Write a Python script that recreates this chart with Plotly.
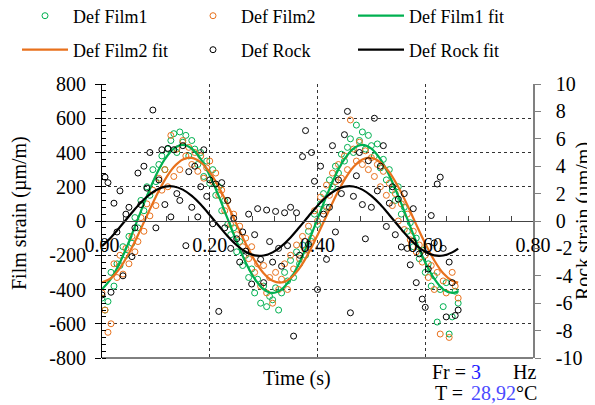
import plotly.graph_objects as go

# ---- data ----
time_s = [0, 0.0056, 0.0111, 0.0167, 0.0222, 0.0278, 0.0333, 0.0389, 0.0444,
          0.05, 0.0556, 0.0611, 0.0667, 0.0722, 0.0778, 0.0833, 0.0889, 0.0944,
          0.1, 0.1056, 0.1111, 0.1167, 0.1222, 0.1278, 0.1333, 0.1389, 0.1444,
          0.15, 0.1556, 0.1611, 0.1667, 0.1722, 0.1778, 0.1833, 0.1889, 0.1944,
          0.2, 0.2056, 0.2111, 0.2167, 0.2222, 0.2278, 0.2333, 0.2389, 0.2444,
          0.25, 0.2556, 0.2611, 0.2667, 0.2722, 0.2778, 0.2833, 0.2889, 0.2944,
          0.3, 0.3056, 0.3111, 0.3167, 0.3222, 0.3278, 0.3333, 0.3389, 0.3444,
          0.35, 0.3556, 0.3611, 0.3667, 0.3722, 0.3778, 0.3833, 0.3889, 0.3944,
          0.4, 0.4056, 0.4111, 0.4167, 0.4222, 0.4278, 0.4333, 0.4389, 0.4444,
          0.45, 0.4556, 0.4611, 0.4667, 0.4722, 0.4778, 0.4833, 0.4889, 0.4944,
          0.5, 0.5056, 0.5111, 0.5167, 0.5222, 0.5278, 0.5333, 0.5389, 0.5444,
          0.55, 0.5556, 0.5611, 0.5667, 0.5722, 0.5778, 0.5833, 0.5889, 0.5944,
          0.6, 0.6056, 0.6111, 0.6167, 0.6222, 0.6278, 0.6333, 0.6389, 0.6444,
          0.65, 0.6556, 0.6611]

film1 = [-450, -520, -470, -300, -380, -250, -260, -150, -200, -90, -130, 20,
         -40, 120, 60, 200, 150, 300, 230, 330, 380, 300, 420, 470,
         510, 400, 520, 460, 500, 380, 470, 420, 330, 400, 260, 350,
         220, 300, 150, 200, 60, 120, -20, -80, -40, -180, -120, -260,
         -200, -330, -280, -420, -340, -480, -380, -500, -440, -460, -390, -520,
         -420, -300, -350, -230, -330, -180, -250, -140, -200, -60, -120, 40,
         -20, 100, 160, 80, 240, 200, 320, 280, 390, 350, 430, 480,
         400, 560, 470, 520, 420, 500, 440, 380, 450, 310, 360, 240,
         300, 180, 120, 200, 40, 80, -60, -10, -150, -100, -220, -170,
         -300, -250, -380, -320, -590, -400, -500, -360, -660, -560, -410, -480]

film2 = [-420, -520, -650, -600, -250, -330, -200, -310, -160, -250, -90, -180,
         -120, 20, -60, 100, 30, 180, 90, 250, 180, 300, 200, 500,
         260, 420, 300, 470, 380, 430, 330, 400, 290, 380, 250, 310,
         350, 230, 280, 150, 180, 60, 120, -20, 40, -80, -30, -150,
         -100, -220, -150, -300, -250, -380, -260, -420, -330, -480, -300, -400,
         -340, -250, -400, -200, -280, -140, -220, -90, -170, -30, -100, 60,
         0, 140, 60, 210, 150, 280, 230, 330, 250, 380, 300, 590,
         420, 350, 460, 330, 410, 300, 370, 260, 330, 200, 290, 150,
         220, 90, 160, 0, 100, -50, 40, -110, -60, -180, -140, -240,
         -200, -330, -260, -400, -300, -660, -350, -420, -680, -300, -380, -450]

rock = [-5.4, 3.2, 2.8, -5.2, 1.3, -0.8, 2.2, -4.0, 0.5, 1.0, -2.6, -0.5,
        3.5, 1.2, 4.0, 2.4, 5.0, 8.1, -0.5, 3.0, 5.2, 1.2, 5.3, 0.3,
        5.2, 2.0, 1.5, 5.5, -1.8, 3.6, 1.0, 4.0, 0.3, 2.5, 5.2, 1.8,
        3.0, -0.2, 2.7, -6.6, 2.8, -0.5, 1.5, -2.0, 0.2, -1.3, -3.0, -0.8,
        -2.2, 0.5, -4.6, -1.0, 0.9, -2.8, -4.5, 0.8, -1.5, -3.0, 0.7, -2.0,
        -3.3, 0.6, -1.8, 1.0, -8.4, 0.6, -2.5, 4.7, 6.6, -1.7, 5.0, 2.9,
        -5.0, 4.0, 0.5, -2.8, 1.0, 5.5, -0.8, 3.0, 2.0, 6.3, 8.0, -6.7,
        1.8, 3.3, 5.0, 1.2, -1.3, 4.4, 1.0, 7.5, 2.2, 4.0, 5.5, -0.4,
        1.3, 2.5, -1.0, 1.6, -1.9, 2.0, -2.0, -3.2, 0.9, -4.5, -2.4, -5.7,
        -6.3, -3.5, 0.4, -1.6, 2.7, 3.2, -2.0, -7.0, -3.0, -4.5, -6.9, -6.5]

fit_time = [0, 0.0167, 0.0333, 0.05, 0.0667, 0.0833, 0.1, 0.1167, 0.1333, 0.15,
            0.1667, 0.1833, 0.2, 0.2167, 0.2333, 0.25, 0.2667, 0.2833, 0.3, 0.3167,
            0.3333, 0.35, 0.3667, 0.3833, 0.4, 0.4167, 0.4333, 0.45, 0.4667, 0.4833,
            0.5, 0.5167, 0.5333, 0.55, 0.5667, 0.5833, 0.6, 0.6167, 0.6333, 0.65, 0.6611]

film1_fit = [-399, -337, -242, -121, 12, 145, 266, 361, 423, 444,
             423, 361, 266, 145, 12, -121, -242, -337, -399, -420,
             -399, -337, -242, -121, 12, 145, 266, 361, 423, 444,
             423, 361, 266, 145, 12, -121, -242, -337, -399, -420, -410]

film2_fit = [-359, -333, -275, -188, -83, 31, 142, 240, 315, 359,
             369, 343, 285, 198, 93, -21, -132, -230, -305, -349,
             -359, -333, -275, -188, -83, 31, 142, 240, 315, 359,
             369, 343, 285, 198, 93, -21, -132, -230, -305, -349, -360]

rock_fit = [-1.83, -1.20, -0.44, 0.35, 1.12, 1.77, 2.25, 2.51, 2.52, 2.29,
            1.83, 1.20, 0.44, -0.35, -1.12, -1.77, -2.25, -2.51, -2.52, -2.29,
            -1.83, -1.20, -0.44, 0.35, 1.12, 1.77, 2.25, 2.51, 2.52, 2.29,
            1.83, 1.20, 0.44, -0.35, -1.12, -1.77, -2.25, -2.51, -2.52, -2.29, -2.01]

film_ticks = [-800, -600, -400, -200, 0, 200, 400, 600, 800]
rock_ticks = [-10, -8, -6, -4, -2, 0, 2, 4, 6, 8, 10]

freq_hz = "3"
temp_c = "28,92"

GREEN = "#00b050"
ORANGE = "#e8711c"
BLACK = "#000000"
FONT = "Liberation Serif"

# the page body adds an 8 px margin, so the figure is drawn 8 px smaller
OFF = 8
W, H = 595 - OFF, 405 - OFF
# plot area in screen pixels
PL, PR, PT, PB = 102, 533, 84, 358
PW, PH = PR - PL, PB - PT

def px_x(px):
    return (px - PL) / PW

def px_y(py):
    return (PB - py) / PH

fig = go.Figure()

def pts(name, y, color, axis, legend):
    return go.Scatter(x=time_s, y=y, name=name, mode="markers", yaxis=axis, legend=legend,
                      showlegend=True,
                      marker=dict(symbol="circle-open", size=6, color=color, line=dict(width=1, color=color)))

def fit(name, y, color, axis, legend):
    return go.Scatter(x=fit_time, y=y, name=name, mode="lines", yaxis=axis, legend=legend,
                      showlegend=True,
                      line=dict(color=color, width=2.2, shape="spline", smoothing=1))

fig.add_trace(pts("Def Film1", film1, GREEN, "y", "legend"))
fig.add_trace(pts("Def Film2", film2, ORANGE, "y", "legend2"))
fig.add_trace(fit("Def Film1 fit", film1_fit, GREEN, "y", "legend3"))
fig.add_trace(fit("Def Film2 fit", film2_fit, ORANGE, "y", "legend4"))
fig.add_trace(pts("Def Rock", rock, BLACK, "y2", "legend5"))
fig.add_trace(fit("Def Rock fit", rock_fit, BLACK, "y2", "legend6"))

def leg(lx, ly):
    return dict(orientation="h", xanchor="left", yanchor="middle", x=px_x(lx), y=px_y(ly),
                font=dict(family=FONT, size=18, color="black"), itemwidth=46,
                bgcolor="rgba(0,0,0,0)", visible=True)

def fmt(v):
    return str(v).replace("\u2212", "-")

fig.update_layout(
    width=W, height=H,
    margin=dict(l=PL - OFF, r=W - (PR - OFF), t=PT - OFF, b=H - (PB - OFF), autoexpand=False),
    paper_bgcolor="white", plot_bgcolor="white",
    showlegend=True,
    font=dict(family=FONT, size=20, color="black"),
    legend=leg(17, 16), legend2=leg(185, 16), legend3=leg(353, 16),
    legend4=leg(17, 50), legend5=leg(185, 50), legend6=leg(353, 50),
    xaxis=dict(range=[0, 0.8], dtick=0.2, tick0=0, tickformat=".2f",
               anchor="free", position=0.5,
               showline=True, linecolor="#444", linewidth=1,
               ticks="inside", ticklen=5, tickcolor="#444", ticklabelstandoff=6,
               minor=dict(dtick=0.04, ticks="inside", ticklen=5, tickcolor="#444", showgrid=False),
               showgrid=True, gridcolor="#333", griddash="dot", gridwidth=1,
               zeroline=False, tickfont=dict(size=20, family=FONT)),
    yaxis=dict(range=[-800, 800], tickmode="array", tickvals=film_ticks,
               ticktext=[fmt(v) for v in film_ticks],
               showline=True, linecolor="black", linewidth=1,
               ticks="outside", ticklen=6, tickcolor="black", ticklabelstandoff=5,
               minor=dict(dtick=40, tick0=0, ticks="inside", ticklen=4, tickcolor="black", showgrid=False),
               showgrid=True, gridcolor="#333", griddash="dot", gridwidth=1,
               zeroline=False, tickfont=dict(size=20, family=FONT)),
    yaxis2=dict(range=[-10, 10], tickmode="array", tickvals=rock_ticks,
                ticktext=[fmt(v) for v in rock_ticks], overlaying="y", side="right",
                showline=True, linecolor="#808080", linewidth=1.5,
                ticks="outside", ticklen=6, tickcolor="#808080", ticklabelstandoff=11,
                title=dict(text="Rock strain (µm/m)", standoff=4,
                           font=dict(family=FONT, size=20, color="black")),
                showgrid=False, zeroline=False, tickfont=dict(size=20, family=FONT)),
)

fig.add_shape(type="line", xref="paper", yref="paper", x0=0, x1=1, y0=0, y1=0,
              line=dict(color="black", width=1))

def ann(text, px, py, anchor="center", color="black", angle=0):
    fig.add_annotation(text=text, xref="paper", yref="paper",
                       x=px_x(px), y=px_y(py),
                       xanchor=anchor, yanchor="middle", showarrow=False, textangle=angle,
                       font=dict(family=FONT, size=20, color=color))

ann("Time (s)", 297, 378)
ann("Film strain (µm/m)", 19, 213, angle=-90)
ann("Fr =", 430, 372, anchor="left")
ann(freq_hz, 476, 372, color="#1a1aff")
ann("Hz", 511, 372, anchor="left")
ann("T =", 433, 393, anchor="left")
ann(temp_c, 469, 393, anchor="left", color="#4a4aff")
ann("°C", 514, 393, anchor="left")

fig.write_html("out.html")
